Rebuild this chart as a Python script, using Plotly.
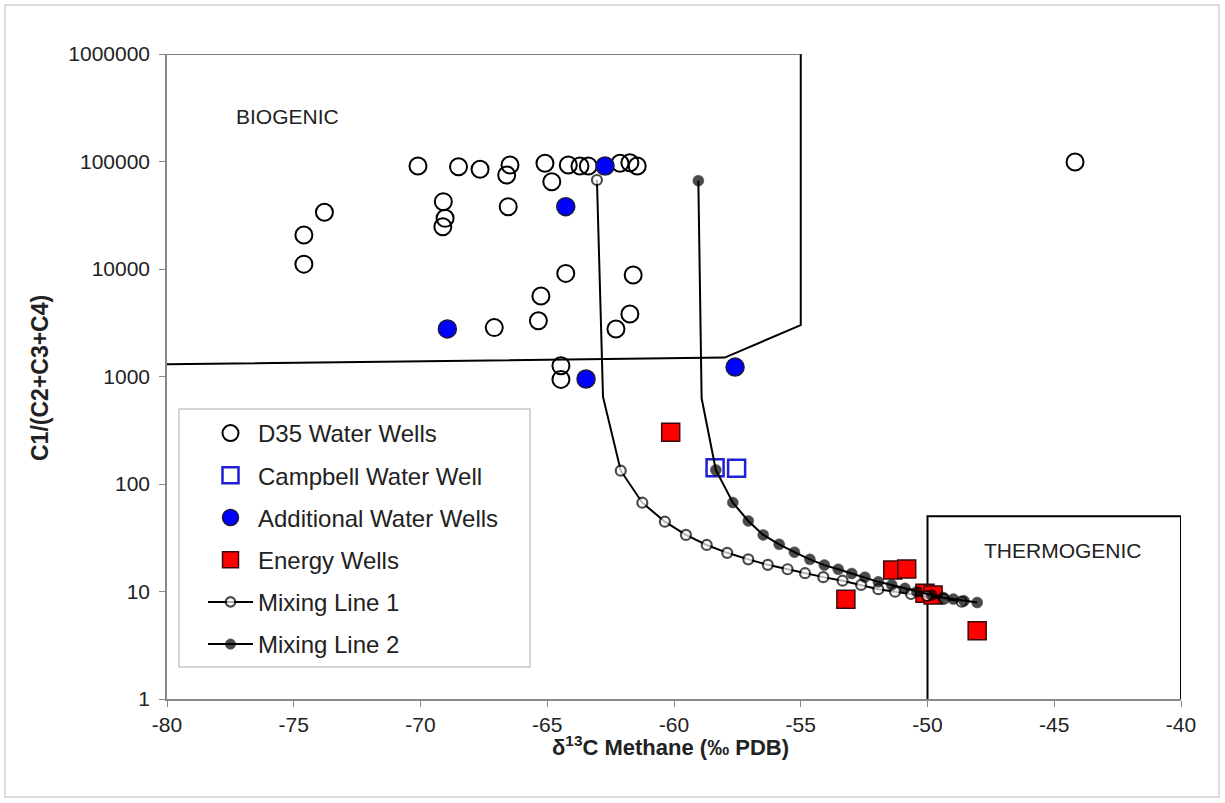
import plotly.graph_objects as go

# ---------------- data ----------------
d35_x = [-70.1, -68.5, -67.65, -66.47, -66.6, -65.09, -64.82, -64.17, -63.71, -63.38,
         -62.13, -61.74, -61.45, -69.1, -69.03, -69.12, -66.54, -73.79, -74.6, -74.6,
         -67.09, -65.35, -65.25, -64.27, -64.46, -64.46, -62.29, -61.74, -61.61, -44.18]
d35_y = [90800, 89500, 84600, 92700, 74900, 96200, 64900, 92700, 90800, 90800,
         96200, 97500, 90800, 42300, 29600, 24700, 38000, 33700, 20700, 11100,
         2850, 3300, 5600, 9100, 1260, 940, 2770, 3810, 8800, 98900]

campbell_x = [-58.38, -57.53]
campbell_y = [142, 140]

additional_x = [-62.72, -64.27, -68.94, -63.47, -57.59]
additional_y = [90800, 38000, 2770, 948, 1225]

energy_x = [-60.13, -51.37, -50.82, -53.22, -50.1, -49.78, -48.04]
energy_y = [303, 15.85, 16.2, 8.46, 9.62, 9.27, 4.32]

mix1_x = [-63.04, -62.8, -62.1, -61.25, -60.36, -59.53, -58.71, -57.9, -57.07, -56.3,
          -55.52, -54.83, -54.11, -53.35, -52.62, -51.94, -51.28, -50.65, -50.02,
          -49.35, -48.65]
mix1_y = [67300, 645, 133, 67, 44.6, 33.6, 27.1, 22.9, 19.9, 17.7,
          16.1, 14.8, 13.6, 12.6, 11.5, 10.5, 9.96, 9.48, 9.08,
          8.55, 8.05]
mix1_marked = [1, 0] + [1] * 19

mix2_x = [-59.04, -58.91, -58.35, -57.68, -57.07, -56.48, -55.85, -55.25, -54.64,
          -54.07, -53.52, -52.99, -52.47, -51.94, -51.41, -50.89, -50.42, -49.83,
          -49.38, -48.98, -48.56, -48.04]
mix2_y = [66300, 627, 135, 67.2, 45.3, 33.6, 27.5, 23.2, 19.9,
          17.6, 16.1, 14.7, 13.6, 12.3, 11.5, 10.7, 9.96, 9.28,
          8.8, 8.5, 8.2, 7.9]
mix2_marked = [1, 0] + [1] * 20

biogenic_x = [-80, -58, -55, -55]
biogenic_y = [1300, 1500, 3000, 1000000]
biogenic_top_x = [-80, -55]
biogenic_top_y = [1000000, 1000000]

thermo_x = [-50, -50, -40, -40]
thermo_y = [1, 50, 50, 1]

x_ticks = [-80, -75, -70, -65, -60, -55, -50, -45, -40]
x_tick_labels = ["-80", "-75", "-70", "-65", "-60", "-55", "-50", "-45", "-40"]
y_ticks = [1, 10, 100, 1000, 10000, 100000, 1000000]
y_tick_labels = ["1", "10", "100", "1000", "10000", "100000", "1000000"]

# ---------------- figure ----------------
W, H = 1225, 803
ML, MR, MT, MB = 167, 44, 54, 104
PW, PH = W - ML - MR, H - MT - MB


def px_x(p):
    return (p - ML) / PW


def px_y(p):
    return (H - MB - p) / PH


FONT = "Arial, Liberation Sans, Helvetica, sans-serif"
NARROW = "Liberation Sans Narrow, Arial Narrow, Arial, sans-serif"

fig = go.Figure()

fig.add_trace(go.Scatter(x=biogenic_x, y=biogenic_y, mode="lines",
                         line=dict(color="black", width=2), showlegend=False,
                         hoverinfo="skip"))
fig.add_trace(go.Scatter(x=biogenic_top_x, y=biogenic_top_y, mode="lines",
                         line=dict(color="#555555", width=1.5), showlegend=False,
                         hoverinfo="skip"))
fig.add_trace(go.Scatter(x=thermo_x, y=thermo_y, mode="lines",
                         line=dict(color="black", width=2), showlegend=False,
                         hoverinfo="skip"))

fig.add_trace(go.Scatter(x=d35_x, y=d35_y, mode="markers", name="D35 Water Wells",
                         legendgroup="a",
                         marker=dict(symbol="circle-open", size=17, color="black",
                                     line=dict(width=2, color="black"))))
fig.add_trace(go.Scatter(x=campbell_x, y=campbell_y, mode="markers",
                         name="Campbell Water Well", legendgroup="b",
                         marker=dict(symbol="square-open", size=17, color="#1f1fd6",
                                     line=dict(width=2.5, color="#1f1fd6"))))
fig.add_trace(go.Scatter(x=additional_x, y=additional_y, mode="markers",
                         name="Additional Water Wells", legendgroup="c",
                         marker=dict(symbol="circle", size=18, color="#0000ff",
                                     line=dict(width=1.5, color="#1a1a3a"))))
fig.add_trace(go.Scatter(x=energy_x, y=energy_y, mode="markers", name="Energy Wells",
                         legendgroup="d",
                         marker=dict(symbol="square", size=18, color="#ff0000",
                                     line=dict(width=1.5, color="#3a0a0a"))))
fig.add_trace(go.Scatter(x=mix1_x, y=mix1_y, mode="lines+markers", name="Mixing Line 1",
                         legendgroup="e",
                         line=dict(color="black", width=2),
                         marker=dict(symbol="circle", size=[10 * m for m in mix1_marked],
                                     color="white", line=dict(width=2.2, color="black"))))
fig.add_trace(go.Scatter(x=mix2_x, y=mix2_y, mode="lines+markers", name="Mixing Line 2",
                         legendgroup="f",
                         line=dict(color="black", width=2),
                         marker=dict(symbol="circle", size=[11 * m for m in mix2_marked],
                                     color="black", line=dict(width=0.5, color="black"))))

shapes = [
    # outer chart border
    dict(type="rect", xref="paper", yref="paper", x0=px_x(5), x1=px_x(1219),
         y0=px_y(797), y1=px_y(5), line=dict(color="#cfcfcf", width=1.5),
         fillcolor="rgba(0,0,0,0)", layer="below"),
    # legend box
    dict(type="rect", xref="paper", yref="paper", x0=px_x(179), x1=px_x(530),
         y0=px_y(667), y1=px_y(409), line=dict(color="#c8c8c8", width=1.5),
         fillcolor="white", layer="below"),
]

annotations = [
    dict(text="BIOGENIC", x=-75.23, y=5.423, xref="x", yref="y", showarrow=False,
         xanchor="center", yanchor="middle",
         font=dict(family=FONT, size=21, color="#222222")),
    dict(text="THERMOGENIC", x=-44.65, y=1.377, xref="x", yref="y", showarrow=False,
         xanchor="center", yanchor="middle",
         font=dict(family=FONT, size=21, color="#222222")),
    dict(text="<b>δ<sup>13</sup>C Methane (‰ PDB)</b>", x=px_x(670), y=px_y(746),
         xref="paper", yref="paper", showarrow=False, xanchor="center", yanchor="middle",
         font=dict(family=NARROW, size=22, color="#222222")),
    dict(text="<b>C1/(C2+C3+C4)</b>", x=px_x(40), y=px_y(378), xref="paper",
         yref="paper", showarrow=False, textangle=-90, xanchor="center",
         yanchor="middle",
         font=dict(family=NARROW, size=23, color="#222222")),
]

fig.update_layout(
    width=W, height=H,
    margin=dict(l=ML, r=MR, t=MT, b=MB),
    paper_bgcolor="white", plot_bgcolor="white",
    showlegend=True,
    legend=dict(x=px_x(203), y=px_y(411), xanchor="left", yanchor="top",
                bgcolor="rgba(0,0,0,0)", borderwidth=0, tracegroupgap=8,
                itemwidth=45,
                font=dict(family=FONT, size=24, color="#222222")),
    shapes=shapes,
    annotations=annotations,
    font=dict(family=FONT, color="#222222"),
)

fig.update_xaxes(range=[-80, -40], tickvals=x_ticks, ticktext=x_tick_labels,
                 ticks="outside", ticklen=6, tickcolor="#888888",
                 showline=True, linecolor="#888888", linewidth=1.5,
                 showgrid=False, zeroline=False,
                 tickfont=dict(family=FONT, size=21, color="#222222"))
fig.update_yaxes(type="log", range=[0, 6], tickvals=y_ticks, ticktext=y_tick_labels,
                 ticks="outside", ticklen=6, tickcolor="#888888", ticklabelstandoff=5,
                 showline=True, linecolor="#888888", linewidth=1.5,
                 showgrid=False, zeroline=False,
                 tickfont=dict(family=FONT, size=21, color="#222222"))

fig.write_html("out.html")
